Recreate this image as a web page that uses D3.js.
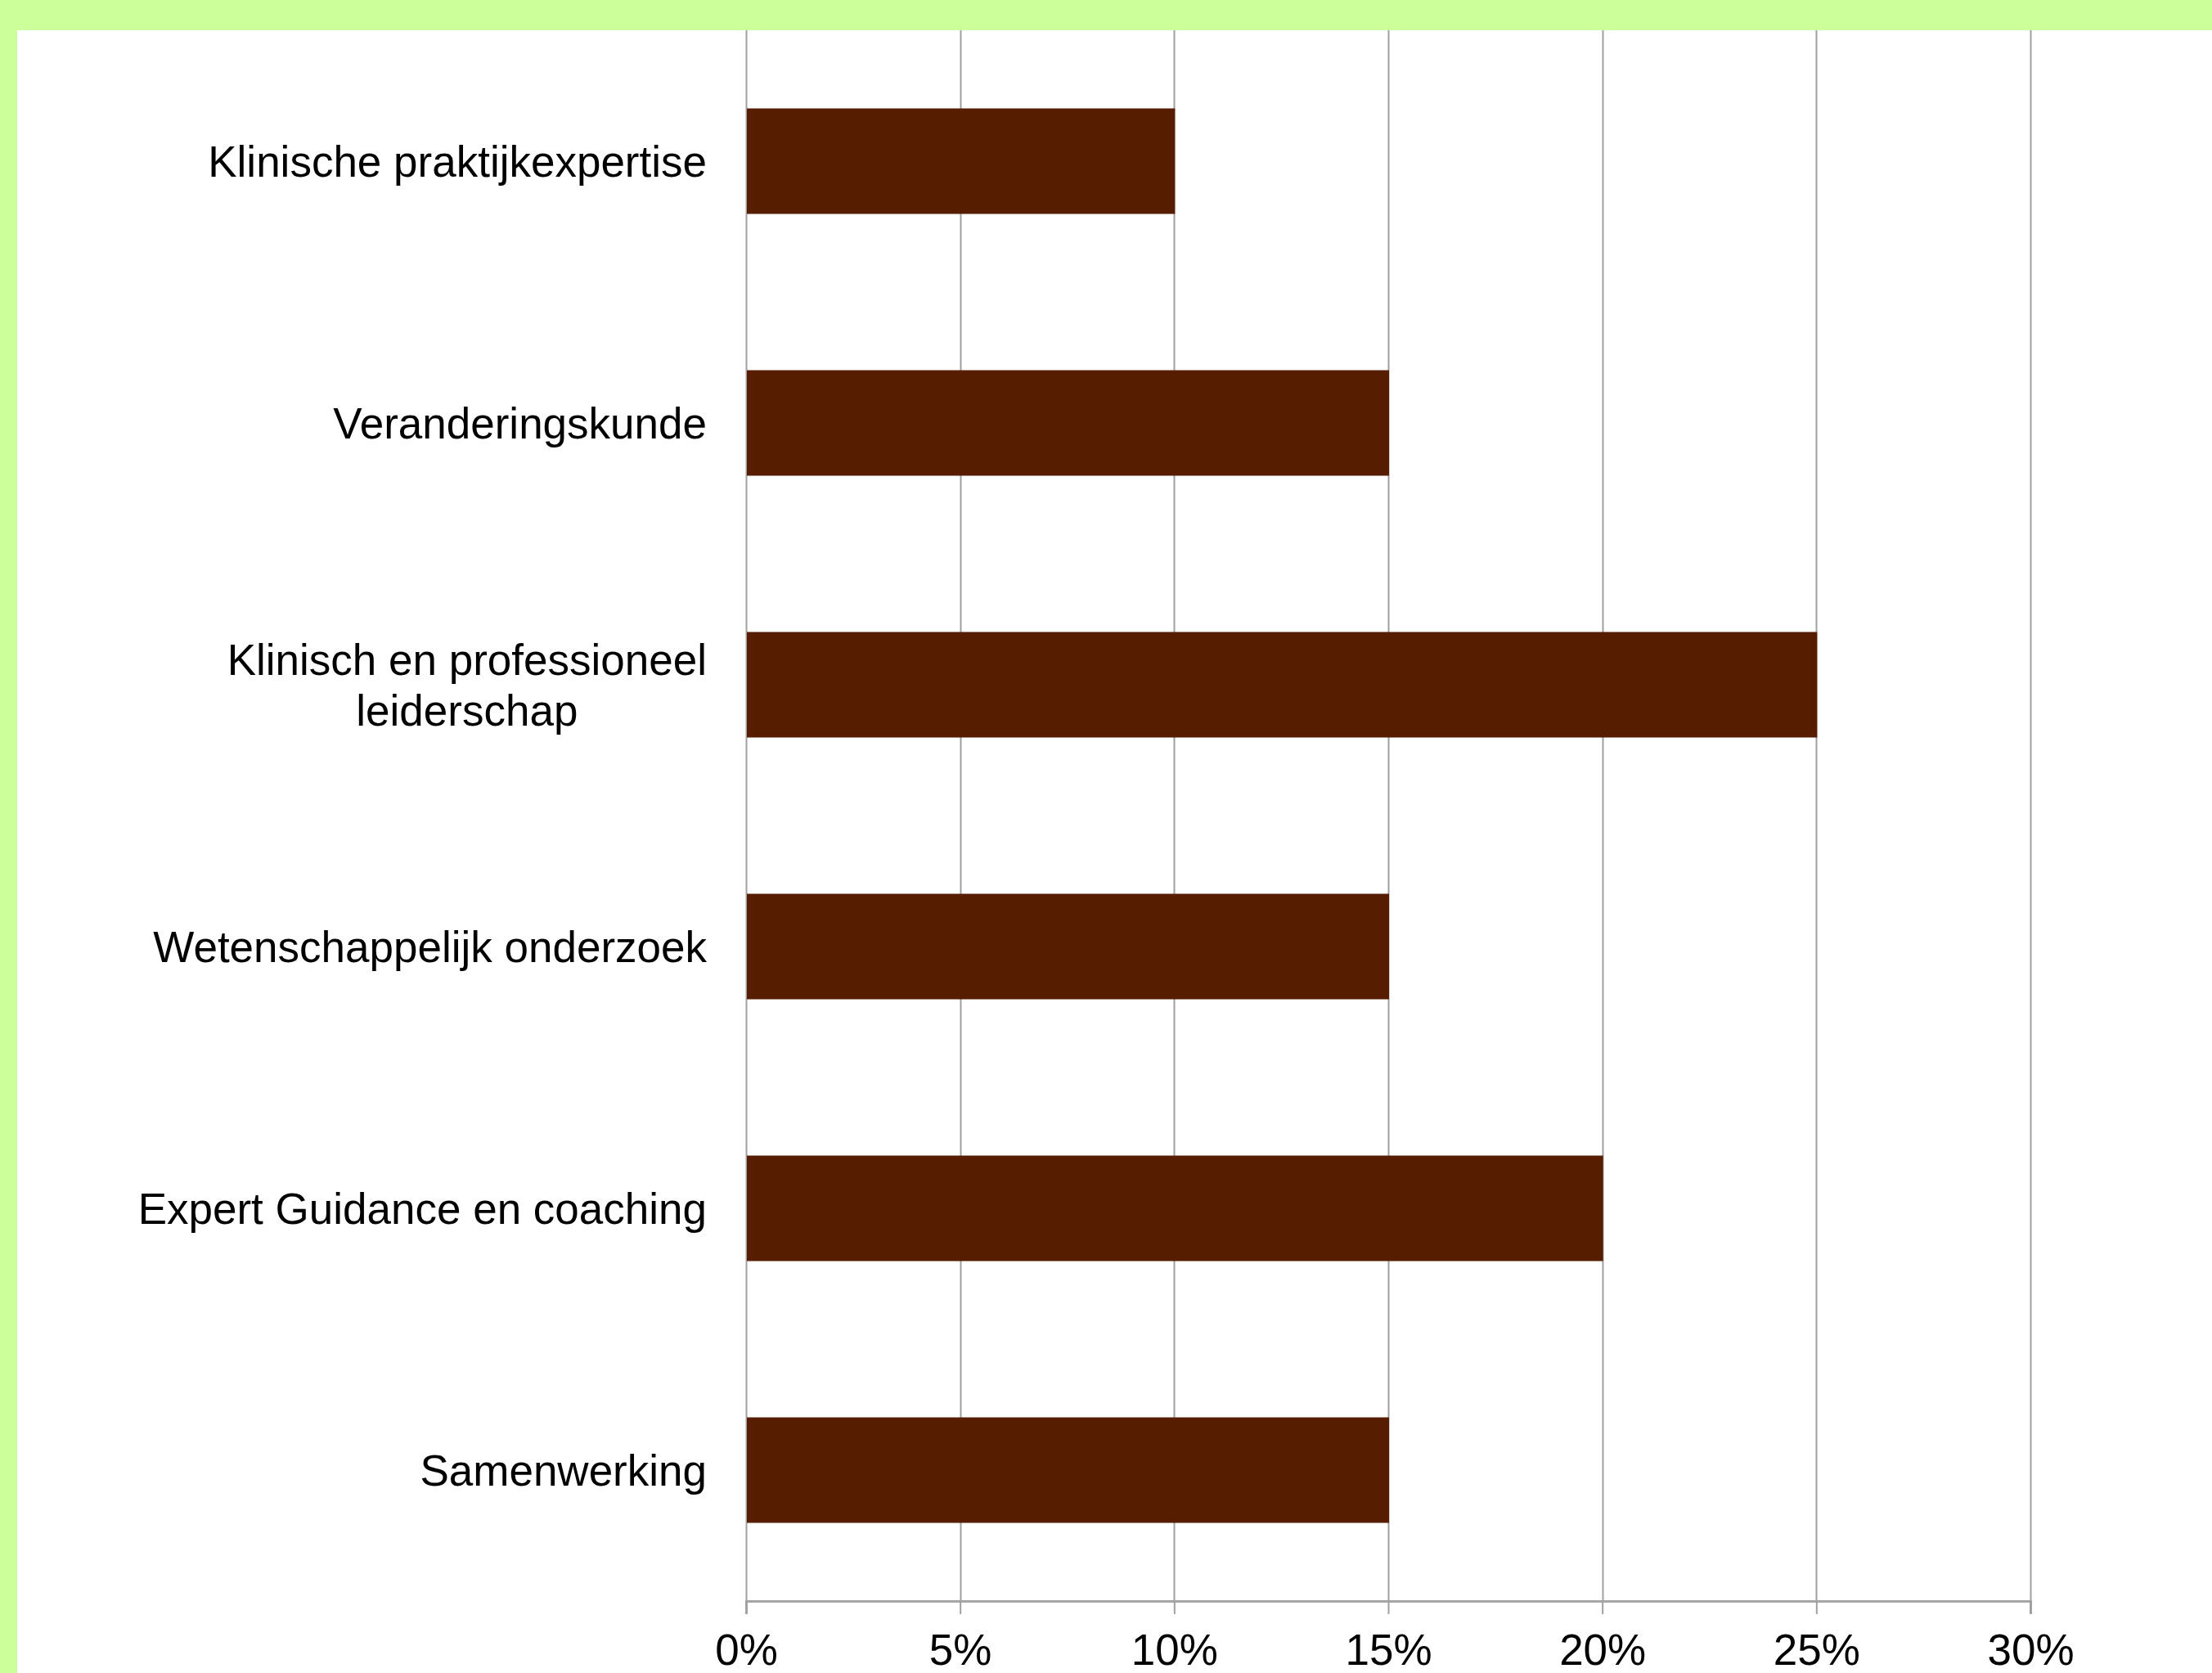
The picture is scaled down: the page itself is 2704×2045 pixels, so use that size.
<!DOCTYPE html>
<html>
<head>
<meta charset="utf-8">
<script src="https://cdn.jsdelivr.net/npm/d3@7"></script>
<style>
  html, body { margin: 0; padding: 0; background: #CCFF99; }
  svg { display: block; }
  .cat, .tick text { font-family: "Liberation Sans", Arial, sans-serif; fill: #000; }
</style>
</head>
<body>
<svg id="chart"></svg>
<script>
  // Competence areas, top to bottom, and their share.
  var categories = [
    "Klinische praktijkexpertise",
    "Veranderingskunde",
    "Klinisch en professioneel|leiderschap",
    "Wetenschappelijk onderzoek",
    "Expert Guidance en coaching",
    "Samenwerking"
  ];
  var shares = [0.10, 0.15, 0.25, 0.15, 0.20, 0.15];
  var tickValues = [0, 0.05, 0.10, 0.15, 0.20, 0.25, 0.30];

  var W = 2704, H = 2045;
  var plot = { left: 912, right: 2482, top: 37, bottom: 1957 };

  var svg = d3.select('#chart')
    .attr('width', W)
    .attr('height', H);

  // white card, green band on top and left
  svg.append('rect')
    .attr('x', 21).attr('y', 37)
    .attr('width', W - 21).attr('height', H - 37)
    .attr('fill', '#fff');

  var x = d3.scaleLinear()
    .domain([0, 0.30])
    .range([plot.left, plot.right]);

  var y = d3.scaleBand()
    .domain(categories)
    .range([plot.top, plot.bottom])
    .paddingInner(0.597)
    .paddingOuter(0.2985);

  // vertical gridlines
  svg.append('g')
    .selectAll('line')
    .data(tickValues)
    .enter()
    .append('line')
    .attr('x1', function(d) { return Math.round(x(d)) + 0.5; })
    .attr('x2', function(d) { return Math.round(x(d)) + 0.5; })
    .attr('y1', plot.top)
    .attr('y2', plot.bottom)
    .attr('stroke', '#a0a0a0')
    .attr('stroke-width', 2);

  // bars
  svg.append('g')
    .selectAll('rect')
    .data(categories)
    .enter()
    .append('rect')
    .attr('x', x(0) + 1)
    .attr('y', function(d) { return y(d); })
    .attr('width', function(d, i) { return x(shares[i]) - x(0); })
    .attr('height', y.bandwidth())
    .attr('fill', '#561d00');

  // bottom axis
  var axis = d3.axisBottom(x)
    .tickValues(tickValues)
    .tickSize(16)
    .tickPadding(24)
    .tickFormat(d3.format('.0%'));

  var ax = svg.append('g')
    .attr('transform', 'translate(0,' + plot.bottom + ')')
    .call(axis);
  ax.select('.domain')
    .attr('stroke', '#a6a6a6')
    .attr('stroke-width', 3);
  ax.selectAll('.tick line')
    .attr('stroke', '#a0a0a0')
    .attr('stroke-width', 2);
  ax.selectAll('.tick text')
    .attr('font-size', 53)
    .attr('dy', '0.71em');

  // category labels, right aligned; multi-line labels centred on each other
  var lineH = 62;
  svg.append('g')
    .selectAll('g')
    .data(categories)
    .enter()
    .append('g')
    .each(function(d) {
      var lines = d.split('|');
      var cy = y(d) + y.bandwidth() / 2;
      var t = d3.select(this).append('text')
        .attr('class', 'cat')
        .attr('font-size', 53)
        .attr('y', cy - (lines.length - 1) * lineH / 2)
        .attr('dy', '0.35em');
      if (lines.length === 1) {
        t.attr('x', 864).attr('text-anchor', 'end').text(d);
        return;
      }
      // measure widest line so lines centre under each other and end at 864
      t.attr('text-anchor', 'middle');
      lines.forEach(function(l, i) {
        t.append('tspan').attr('x', 0).attr('dy', i === 0 ? null : lineH).text(l);
      });
      var w = t.node().getBBox().width;
      t.selectAll('tspan').attr('x', 864 - w / 2);
    });
</script>
</body>
</html>
